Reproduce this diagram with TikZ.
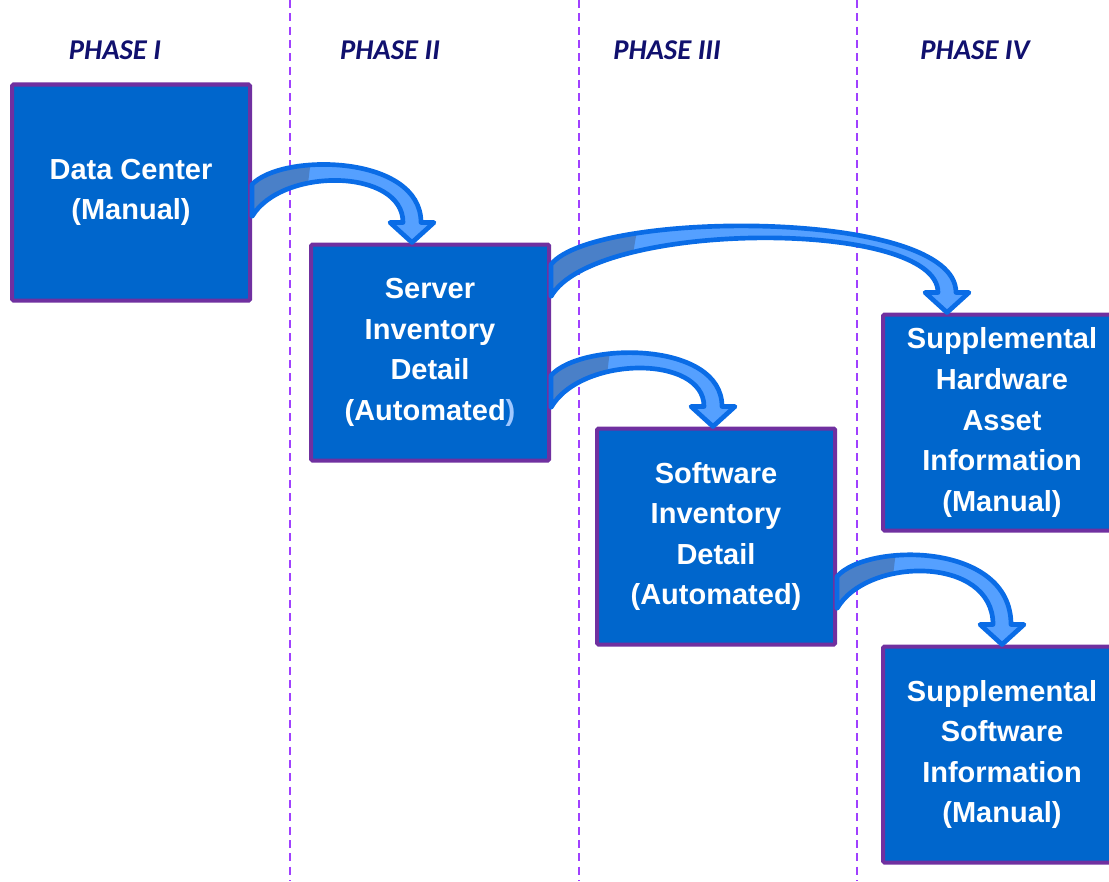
\documentclass[tikz,border=0pt]{standalone}
\usepackage{fontspec}
\setmainfont{Liberation Sans}
\newfontfamily\phasefont{Carlito}
\usetikzlibrary{calc,positioning}

\definecolor{boxfill}{RGB}{0,102,204}
\definecolor{boxborder}{RGB}{112,48,160}
\definecolor{phaseline}{RGB}{160,64,255}
\definecolor{phasetext}{RGB}{16,16,110}
\definecolor{arrowedge}{RGB}{10,108,230}
\definecolor{arrowlight}{RGB}{85,160,255}
\definecolor{arrowdark}{RGB}{74,128,200}
\definecolor{parenlight}{RGB}{160,200,255}

% curved phase arrow: start, tip, control x, height at start, height at tip, band
\newcommand{\phasearrow}[6]{%
	\def\phasearrowpath{($(#1)+(0,-16)$) .. controls ($(#1)+(#3,-#4)$) and ($(#2)+(9,-#5)$) .. ($(#2)+(9,-20)$)
		-- ($(#2)+(22,-20)$) -- (#2) -- ($(#2)+(-22,-20)$) -- ($(#2)+(-9,-20)$)
		.. controls ($(#2)+(-9,-#5+#6)$) and ($(#1)+(#3,-#4+#6)$) .. ($(#1)+(0,16)$) -- cycle}%
	\fill[arrowlight] \phasearrowpath;
	\begin{scope}
		\clip ($(#1)+(-4,-150)$) -- ($(#1)+(2.4*#3,-150)$) -- ($(#1)+(1.2*#3,150)$) -- ($(#1)+(-4,150)$) -- cycle;
		\fill[arrowdark] \phasearrowpath;
	\end{scope}
	\draw[arrow line] \phasearrowpath;
}

\begin{document}
\begin{tikzpicture}[
		x=0.75pt,
		y=-0.75pt,
		phase box/.style={rectangle,draw=boxborder,line width=3pt,fill=boxfill,rounded corners=1pt,
			minimum width=178.5pt,minimum height=162pt,inner sep=0pt,align=center,text=white,
			font=\bfseries\fontsize{21.75}{30.4}\selectfont},
		phase label/.style={text=phasetext,font=\phasefont\bfseries\itshape\fontsize{21.5}{24}\selectfont},
		phase sep/.style={draw=phaseline,line width=1.5pt,dash pattern=on 6pt off 4pt},
		arrow line/.style={draw=arrowedge,line width=3.5pt,line join=round}]

	\useasboundingbox (0,0) rectangle (1109,881);

	\foreach \x in {290,579,857}
		\draw[phase sep] (\x,0) -- (\x,881);

	\node[phase label] (p1) at (115,50) {PHASE I};
	\node[phase label] (p2) at (390,50) {PHASE II};
	\node[phase label] (p3) at (667,50) {PHASE III};
	\node[phase label] (p4) at (975,50) {PHASE IV};

	\node[phase box] (dc) at (131,192.5) {Data Center\\(Manual)};

	\node[phase box] (sid) [right=42.75pt of dc, yshift=-120pt] {Server\\Inventory\\Detail\\(Automated\textcolor{parenlight}{)}};
	\node[phase box] (swid) [right=33pt of sid, yshift=-138pt] {Software\\Inventory\\Detail\\(Automated)};
	\node[phase box] (shai) [right=33pt of swid, yshift=85.5pt] {Supplemental\\Hardware\\Asset\\Information\\(Manual)};
	\node[phase box] (sswi) [below=84pt of shai] {Supplemental\\Software\\Information\\(Manual)};

	\coordinate (a1s) at ($(dc.east)+(0,8)$);
	\coordinate (a1t) at ($(sid.north)+(-18,0)$);
	\coordinate (a2s) at ($(sid.east)+(0,-72)$);
	\coordinate (a2t) at ($(shai.north)+(-55,0)$);
	\coordinate (a3s) at ($(sid.east)+(0,39)$);
	\coordinate (a3t) at ($(swid.north)+(-3,0)$);
	\coordinate (a4s) at ($(swid.east)+(0,56)$);
	\coordinate (a4t) at ($(sswi.north)+(0,0)$);

	\phasearrow{a1s}{a1t}{30}{48}{88}{14}
	\phasearrow{a2s}{a2t}{43}{71}{104}{10}
	\phasearrow{a3s}{a3t}{30}{50}{86}{14}
	\phasearrow{a4s}{a4t}{30}{50}{103}{14}
\end{tikzpicture}
\end{document}
